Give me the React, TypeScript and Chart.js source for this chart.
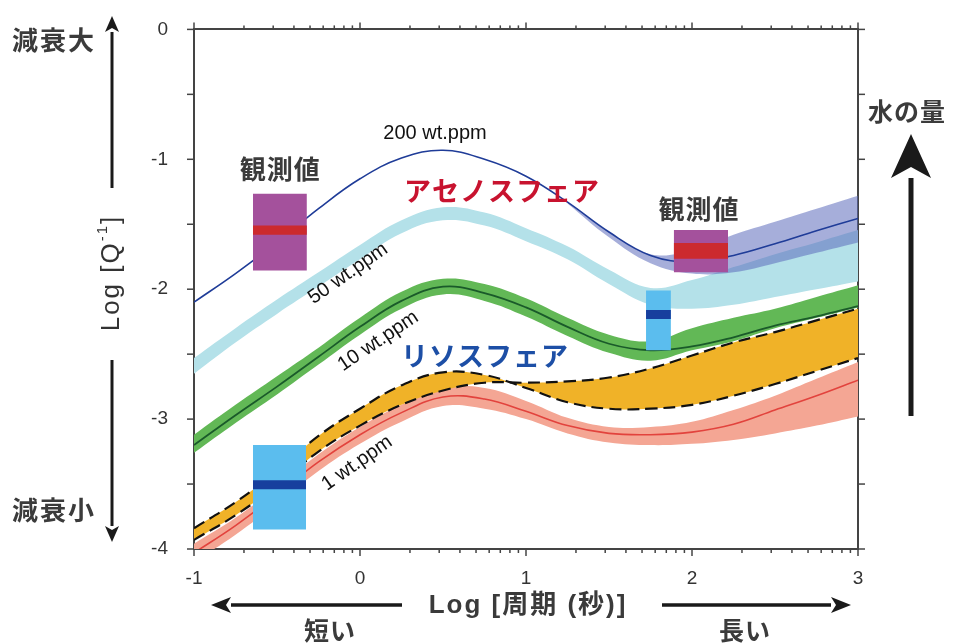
import React, { useEffect, useRef } from "react";
import { Chart, registerables } from "chart.js";

Chart.register(...registerables);

// ---------------- data ----------------
const periodLog = [-1, -0.75, -0.5, -0.25, 0, 0.25, 0.5, 0.75, 1, 1.25, 1.5, 1.75, 2, 2.25, 2.5, 2.75, 3];
const xTickValues = [-1, 0, 1, 2, 3];
const yTickValues = [0, -1, -2, -3, -4];

// 200 wt.ppm
const water200Line = [-2.1, -1.88, -1.64, -1.38, -1.15, -0.99, -0.93, -1.0, -1.13, -1.33, -1.56, -1.74, -1.79, -1.74, -1.65, -1.55, -1.455];
const water200BandX = [1.25, 1.5, 1.75, 2, 2.25, 2.5, 2.75, 3];
const water200BandUpper = [-1.33, -1.56, -1.73, -1.7, -1.58, -1.48, -1.38, -1.28];
const water200BandLower = [-1.34, -1.6, -1.8, -1.88, -1.87, -1.8, -1.72, -1.64];
// 50 wt.ppm
const water50Upper = [-2.53, -2.3, -2.08, -1.87, -1.66, -1.47, -1.37, -1.41, -1.53, -1.67, -1.85, -1.99, -1.93, -1.83, -1.73, -1.64, -1.545];
const water50Lower = [-2.65, -2.41, -2.19, -1.98, -1.77, -1.57, -1.47, -1.51, -1.63, -1.77, -1.96, -2.12, -2.15, -2.12, -2.06, -2.0, -1.94];
// 10 wt.ppm
const water10Line = [-3.2, -2.97, -2.75, -2.52, -2.29, -2.09, -1.98, -2.03, -2.14, -2.29, -2.42, -2.47, -2.44, -2.37, -2.28, -2.21, -2.13];
const water10Upper = [-3.12, -2.89, -2.67, -2.45, -2.22, -2.02, -1.92, -1.96, -2.07, -2.22, -2.35, -2.4, -2.3, -2.22, -2.15, -2.06, -1.97];
const water10Lower = [-3.26, -3.03, -2.81, -2.58, -2.35, -2.15, -2.04, -2.09, -2.21, -2.36, -2.49, -2.55, -2.47, -2.4, -2.3, -2.22, -2.14];
// 1 wt.ppm
const water1Line = [-4.03, -3.82, -3.58, -3.33, -3.12, -2.95, -2.83, -2.845, -2.94, -3.05, -3.11, -3.12, -3.1, -3.04, -2.93, -2.82, -2.7];
const water1Upper = [-3.96, -3.76, -3.52, -3.27, -3.06, -2.89, -2.76, -2.76, -2.86, -2.99, -3.06, -3.06, -3.02, -2.93, -2.82, -2.69, -2.56];
const water1Lower = [-4.1, -3.89, -3.65, -3.4, -3.19, -3.02, -2.9, -2.92, -3.0, -3.11, -3.18, -3.2, -3.19, -3.16, -3.11, -3.05, -2.98];
// lithosphere range (dashed)
const lithosphereA = [-3.84, -3.64, -3.4, -3.13, -2.92, -2.74, -2.64, -2.66, -2.76, -2.87, -2.92, -2.92, -2.89, -2.82, -2.73, -2.63, -2.53];
const lithosphereB = [-3.93, -3.74, -3.51, -3.25, -3.05, -2.89, -2.78, -2.72, -2.72, -2.71, -2.68, -2.61, -2.51, -2.41, -2.33, -2.24, -2.15];
// observations: [xStart, xEnd, top, bottom, centreTop, centreBottom]
const obsAsthenosphere = [
  [-0.645, -0.32, -1.265, -1.856, -1.51, -1.58],
  [1.89, 2.217, -1.545, -1.87, -1.645, -1.765],
];
const obsLithosphere = [
  [1.723, 1.873, -2.01, -2.47, -2.16, -2.23],
  [-0.645, -0.325, -3.2, -3.85, -3.47, -3.54],
];

// ---------------- styles ----------------
const LATIN = '"Liberation Sans", Arial';
const CJK = '"Noto Sans CJK JP", sans-serif';
const AXIS = "#444";
const TEXT_GREY = "#3b3b3b";

const pts = (xs: number[], ys: number[]) => xs.map((x, i) => ({ x, y: ys[i] }));

function buildDatasets() {
  const ds: any[] = [];
  const band = (xs: number[], up: number[], lo: number[], color: string, smooth = true) => {
    const common = {
      pointRadius: 0,
      borderWidth: 0,
      borderColor: "rgba(0,0,0,0)",
      tension: smooth ? 0.4 : 0,
      clip: 0,
    };
    ds.push({ ...common, data: pts(xs, up), fill: "+1", backgroundColor: color });
    ds.push({ ...common, data: pts(xs, lo), fill: false });
  };
  const line = (ys: number[], color: string, width: number, dash: number[] = []) => {
    ds.push({
      data: pts(periodLog, ys),
      borderColor: color,
      borderWidth: width,
      borderDash: dash,
      pointRadius: 0,
      fill: false,
      tension: 0.4,
      clip: 0,
    });
  };
  band(periodLog, water50Upper, water50Lower, "rgb(180, 225, 233)");
  band(water200BandX, water200BandUpper, water200BandLower, "rgba(92, 108, 188, 0.55)");
  band(periodLog, water10Upper, water10Lower, "rgb(98, 184, 86)");
  band(periodLog, water1Upper, water1Lower, "rgb(244, 166, 148)");
  line(water200Line, "#1f3c98", 1.6);
  line(water10Line, "#1a5a2a", 1.8);
  line(water1Line, "#e2433d", 1.6);
  band(periodLog, lithosphereA, lithosphereB, "rgb(240, 178, 40)");
  line(lithosphereA, "#111", 2.2, [12, 6]);
  line(lithosphereB, "#111", 2.2, [12, 6]);
  for (const b of obsAsthenosphere) {
    band([b[0], b[1]], [b[2], b[2]], [b[3], b[3]], "#a4519c", false);
    band([b[0], b[1]], [b[4], b[4]], [b[5], b[5]], "#cc2a2e", false);
  }
  for (const b of obsLithosphere) {
    band([b[0], b[1]], [b[2], b[2]], [b[3], b[3]], "#5bbdee", false);
    band([b[0], b[1]], [b[4], b[4]], [b[5], b[5]], "#173f9e", false);
  }
  const n = ds.length;
  ds.forEach((d, i) => (d.order = n - i));
  return ds;
}

function text(
  ctx: CanvasRenderingContext2D,
  s: string,
  x: number,
  y: number,
  font: string,
  color: string,
  angle = 0,
  spacing = 0,
  align: CanvasTextAlign = "center"
) {
  ctx.save();
  ctx.translate(x, y);
  if (angle) ctx.rotate((angle * Math.PI) / 180);
  ctx.font = font;
  ctx.fillStyle = color;
  ctx.textAlign = align;
  ctx.textBaseline = "middle";
  (ctx as any).letterSpacing = spacing + "px";
  ctx.fillText(s, 0, 0);
  ctx.restore();
}

function arrow(ctx: CanvasRenderingContext2D, x1: number, y1: number, x2: number, y2: number, w: number, headLen: number, headHalf: number, color: string) {
  const ang = Math.atan2(y2 - y1, x2 - x1);
  const bx = x2 - headLen * Math.cos(ang);
  const by = y2 - headLen * Math.sin(ang);
  ctx.save();
  ctx.strokeStyle = color;
  ctx.fillStyle = color;
  ctx.lineWidth = w;
  ctx.beginPath();
  ctx.moveTo(x1, y1);
  ctx.lineTo(bx, by);
  ctx.stroke();
  const nx = -Math.sin(ang), ny = Math.cos(ang);
  ctx.beginPath();
  ctx.moveTo(x2, y2);
  ctx.lineTo(bx + nx * headHalf, by + ny * headHalf);
  ctx.lineTo(bx + headLen * 0.25 * Math.cos(ang), by + headLen * 0.25 * Math.sin(ang));
  ctx.lineTo(bx - nx * headHalf, by - ny * headHalf);
  ctx.closePath();
  ctx.fill();
  ctx.restore();
}

const decorPlugin = {
  id: "decor",
  afterDatasetsDraw(chart: any) {
    const { ctx } = chart;
    const xs = chart.scales.x, ys = chart.scales.y;
    const t = (s: string, x: number, y: number, font: string, color: string, angle = 0, sp = 0) => {
      text(ctx, s, xs.getPixelForValue(x), ys.getPixelForValue(y), font, color, angle, sp);
    };
    t("200 wt.ppm", 0.452, -0.8, `20px ${LATIN}`, "#111");
    t("50 wt.ppm", -0.072, -1.88, `20px ${LATIN}`, "#111", -35);
    t("10 wt.ppm", 0.11, -2.4, `20px ${LATIN}`, "#111", -34);
    t("1 wt.ppm", -0.018, -3.34, `20px ${LATIN}`, "#111", -35);
    t("観測値", -0.48, -1.076, `bold 26px ${CJK}`, TEXT_GREY, 0, 1);
    t("観測値", 2.042, -1.38, `bold 26px ${CJK}`, TEXT_GREY, 0, 1);
    t("アセノスフェア", 0.855, -1.24, `bold 27px ${CJK}`, "#c8132f", 0, 1);
    t("リソスフェア", 0.753, -2.51, `bold 27px ${CJK}`, "#1d4fa6", 0, 1);
  },
  afterDraw(chart: any) {
    const { ctx, chartArea: a } = chart;
    const xs = chart.scales.x, ys = chart.scales.y;
    ctx.save();
    ctx.strokeStyle = AXIS;
    ctx.lineWidth = 1.5;
    const seg = (x1: number, y1: number, x2: number, y2: number) => {
      ctx.beginPath();
      ctx.moveTo(x1, y1);
      ctx.lineTo(x2, y2);
      ctx.stroke();
    };
    for (let d = -1; d <= 3; d++) {
      const p = xs.getPixelForValue(d);
      seg(p, a.bottom, p, a.bottom + 7);
      seg(p, a.top, p, a.top - 7);
      if (d < 3)
        for (let k = 2; k <= 9; k++) {
          const q = xs.getPixelForValue(d + Math.log10(k));
          seg(q, a.bottom, q, a.bottom + 4);
          seg(q, a.top, q, a.top - 4);
        }
    }
    for (let v = -4; v <= 0; v += 0.5) {
      const p = ys.getPixelForValue(v);
      seg(a.left, p, a.left - 7, p);
      seg(a.right, p, a.right + 7, p);
    }
    ctx.restore();

    // left side
    text(ctx, "減衰大", 54, 40, `bold 26px ${CJK}`, TEXT_GREY, 0, 2);
    text(ctx, "減衰小", 54, 510, `bold 26px ${CJK}`, TEXT_GREY, 0, 2);
    arrow(ctx, 112, 188, 112, 16, 3, 16, 7, "#1a1a1a");
    arrow(ctx, 112, 360, 112, 542, 3, 16, 7, "#1a1a1a");
    ctx.save();
    ctx.translate(112, 273);
    ctx.rotate(-Math.PI / 2);
    ctx.fillStyle = "#333";
    ctx.textBaseline = "middle";
    (ctx as any).letterSpacing = "2px";
    const f1 = `26px ${LATIN}`, f2 = `15px ${LATIN}`;
    ctx.font = f1;
    const w1 = ctx.measureText("Log [Q").width;
    const w3 = ctx.measureText("]").width;
    ctx.font = f2;
    const w2 = ctx.measureText("-1").width;
    const x0 = -(w1 + w2 + w3) / 2;
    ctx.textAlign = "left";
    ctx.font = f1;
    ctx.fillText("Log [Q", x0, 0);
    ctx.font = f2;
    ctx.fillText("-1", x0 + w1, -9);
    ctx.font = f1;
    ctx.fillText("]", x0 + w1 + w2, 0);
    ctx.restore();

    // right side
    text(ctx, "水の量", 907, 111, `bold 25px ${CJK}`, TEXT_GREY, 0, 1);
    arrow(ctx, 911, 416, 911, 134, 5, 44, 20, "#1a1a1a");

    // bottom
    text(ctx, "Log [周期 (秒)]", 528, 606, `bold 26px ${LATIN}, ${CJK}`, "#3a3a3a", 0, 2);
    arrow(ctx, 402, 605, 211, 605, 3.5, 20, 8, "#1a1a1a");
    arrow(ctx, 662, 605, 851, 605, 3.5, 20, 8, "#1a1a1a");
    text(ctx, "短い", 330, 630, `bold 25px ${CJK}`, TEXT_GREY, 0, 1);
    text(ctx, "長い", 745, 630, `bold 25px ${CJK}`, TEXT_GREY, 0, 1);
  },
};

export default function App() {
  const ref = useRef<HTMLCanvasElement>(null);
  useEffect(() => {
    const tickFont = { family: LATIN, size: 19 };
    const chart = new Chart(ref.current as HTMLCanvasElement, {
      type: "line",
      data: { datasets: buildDatasets() },
      options: {
        animation: false,
        responsive: false,
        devicePixelRatio: 1,
        layout: { padding: 0 },
        plugins: { legend: { display: false }, tooltip: { enabled: false } },
        scales: {
          x: {
            type: "linear",
            position: "bottom",
            min: -1,
            max: 3,
            grid: { display: false },
            border: { display: true, color: AXIS, width: 2 },
            ticks: { font: tickFont, color: "#333", padding: 10, autoSkip: false, maxRotation: 0 },
            afterBuildTicks: (s: any) => {
              s.ticks = xTickValues.map((v) => ({ value: v }));
            },
            afterFit: (s: any) => {
              s.height = 94;
            },
          },
          x2: {
            type: "linear",
            axis: "x",
            position: "top",
            min: -1,
            max: 3,
            grid: { display: false },
            border: { display: true, color: AXIS, width: 2 },
            ticks: { display: false },
            afterFit: (s: any) => {
              s.height = 21;
            },
          },
          y: {
            type: "linear",
            position: "left",
            min: -4,
            max: 0,
            grid: { display: false },
            border: { display: true, color: AXIS, width: 2 },
            ticks: { font: tickFont, color: "#333", padding: 18, autoSkip: false },
            afterBuildTicks: (s: any) => {
              s.ticks = yTickValues.map((v) => ({ value: v }));
            },
            afterFit: (s: any) => {
              s.width = 194;
            },
          },
          y2: {
            type: "linear",
            axis: "y",
            position: "right",
            min: -4,
            max: 0,
            grid: { display: false },
            border: { display: true, color: AXIS, width: 2 },
            ticks: { display: false },
            afterFit: (s: any) => {
              s.width = 102;
            },
          },
        },
      } as any,
      plugins: [decorPlugin],
    });
    return () => chart.destroy();
  }, []);
  return (
    <div style={{ position: "absolute", left: 0, top: 0, width: 960, height: 643, background: "#fff" }}>
      <canvas ref={ref} width={960} height={643} style={{ display: "block" }} />
    </div>
  );
}
